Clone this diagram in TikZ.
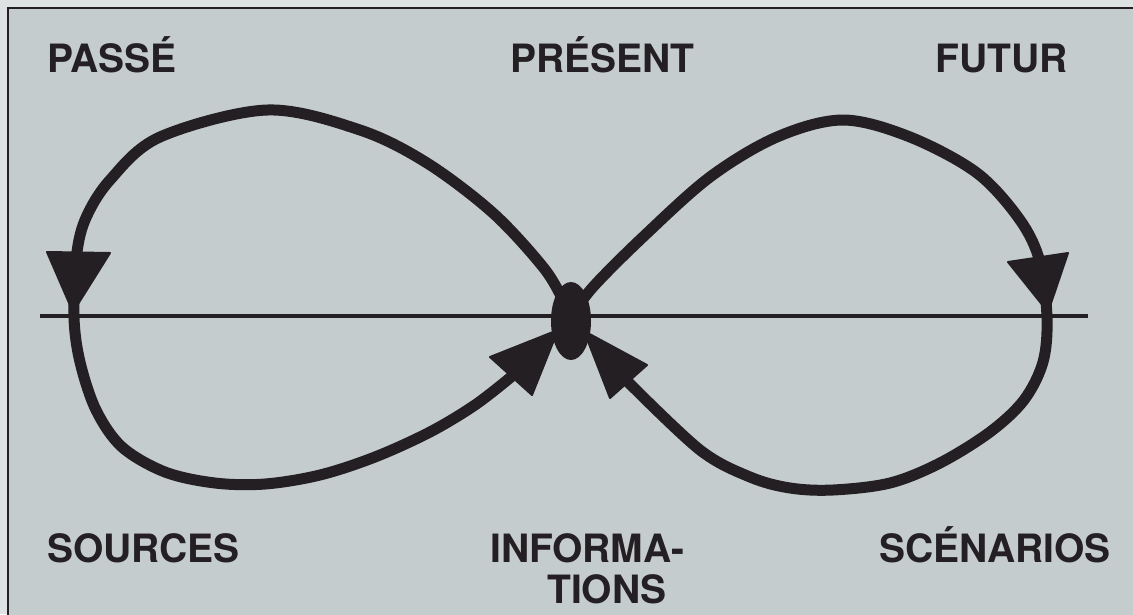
\documentclass[tikz,border=0pt]{standalone}
\usepackage{fontspec}
\setmainfont{TeX Gyre Heros}
\definecolor{ink}{RGB}{35,31,34}
\definecolor{paper}{RGB}{197,204,206}
\definecolor{outer}{RGB}{222,226,226}
\begin{document}
\begin{tikzpicture}[x=1pt,y=-1pt,
  curve/.style={draw=ink,line width=11pt,line cap=round,line join=round},
  axisline/.style={draw=ink,line width=3.5pt},
  arrowtri/.style={fill=ink,draw=ink,line width=2pt,line join=round},
  lbl/.style={font=\bfseries\fontsize{39}{44}\selectfont,text=ink,anchor=base west,inner sep=0pt}]
\useasboundingbox (0,0) rectangle (1133,614);
\clip (0,0) rectangle (1133,614);
\fill[outer] (0,0) rectangle (1133,614);
\filldraw[fill=paper,draw=ink,line width=2.5pt] (8,8) rectangle (1150,630);
% horizontal axis
\coordinate (axL) at (40,316);
\coordinate (axR) at (1088,316);
\draw[axisline] (axL) -- (axR);
% left loop
\draw[curve] plot[smooth,tension=0.55] coordinates {(570,318) (563,300) (543,267) (493,213) (427,163) (360,130) (267,110) (160,137) (110,180) (85,220) (76,260) (74,318) (80,362) (96,410) (122,447) (165,472) (215,483) (265,484) (320,475) (375,457) (430,432) (475,405) (511,377)};
% right loop
\draw[curve] plot[smooth,tension=0.55] coordinates {(570,318) (593,287) (643,237) (710,177) (777,137) (843,120) (910,137) (977,173) (1020,220) (1040,262) (1047,318) (1043,362) (1024,400) (990,432) (940,463) (890,483) (833,490) (790,488) (750,477) (700,450) (628,382)};
% arrowheads
\fill[arrowtri] (47,252) -- (110,253) -- (73,312) -- cycle;
\fill[arrowtri] (1008,262) -- (1068,253) -- (1048,312) -- cycle;
\fill[arrowtri] (490,357) -- (532,395) -- (558,330) -- cycle;
\fill[arrowtri] (647,365) -- (610,398) -- (584,331) -- cycle;
% central knot
\coordinate (ctr) at (571,321);
\fill[ink] (ctr) ellipse [x radius=20, y radius=39];
% labels
\node[lbl] (passe) at (47,72) {PASSÉ};
\node[lbl] (present) at (510,72) {PRÉSENT};
\node[lbl] (futur) at (935,72) {FUTUR};
\node[lbl] (sources) at (47,562) {SOURCES};
\node[lbl] (info1) at (490,562) {INFORMA-};
\node[lbl] (info2) at (547,603) {TIONS};
\node[lbl] (scen) at (879,562) {SCÉNARIOS};
\end{tikzpicture}
\end{document}
